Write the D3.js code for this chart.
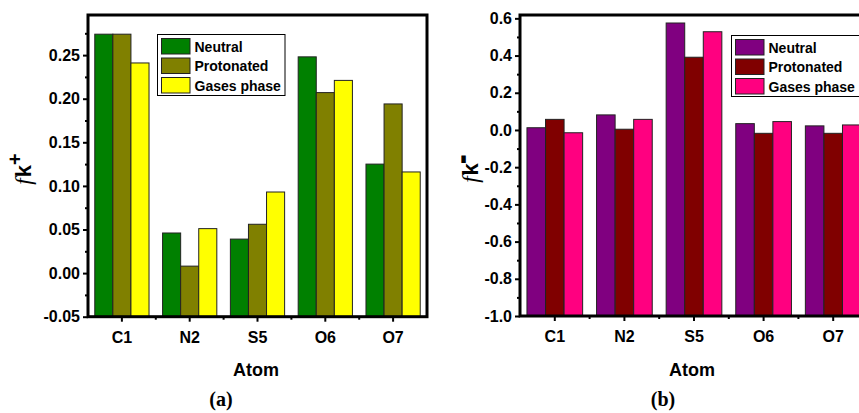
<!DOCTYPE html>
<html><head><meta charset="utf-8">
<script src="https://cdn.jsdelivr.net/npm/d3@7"></script>
<style>body{margin:0;background:#fff}svg{display:block}</style>
</head><body><svg id="c" width="859" height="413"></svg>
<script>
const atoms = ["C1","N2","S5","O6","O7"];
const seriesNames = ["Neutral","Protonated","Gases phase"];
// panel (a) f_k+
const plusNeutral    = [0.274, 0.046, 0.039, 0.248, 0.125];
const plusProtonated = [0.274, 0.008, 0.056, 0.207, 0.194];
const plusGas        = [0.241, 0.051, 0.093, 0.221, 0.116];
const plusTicks = [-0.05, 0.00, 0.05, 0.10, 0.15, 0.20, 0.25];
const plusColors = ["#008000","#808000","#FFFF00"];
// panel (b) f_k-
const minusNeutral    = [0.012, 0.081, 0.575, 0.034, 0.022];
const minusProtonated = [0.057, 0.004, 0.391, -0.018, -0.018];
const minusGas        = [-0.015, 0.057, 0.528, 0.045, 0.027];
const minusTicks = [-1.0, -0.8, -0.6, -0.4, -0.2, 0.0, 0.2, 0.4, 0.6];
const minusColors = ["#800080","#800000","#FF0080"];

const svg = d3.select("#c");
const SANS = "Liberation Sans, Arial, sans-serif";
const SERIF = "Liberation Serif, Times New Roman, serif";

function panel(o){
  const g = svg.append("g");
  const x = d3.scaleBand().domain(atoms).range([o.x0, o.x1]).paddingInner(0.2).paddingOuter(0.1);
  const xs = d3.scaleBand().domain(d3.range(3)).range([0, x.bandwidth()]);
  const y = d3.scaleLinear().domain(o.domain).range([o.yb, o.yt]);
  o.data.forEach((vals, si) => {
    g.selectAll(null).data(vals).enter().append("rect")
      .attr("x", (d,i) => x(atoms[i]) + xs(si))
      .attr("y", d => y(d))
      .attr("width", xs.bandwidth())
      .attr("height", d => y(o.domain[0]) - y(d))
      .attr("fill", o.colors[si])
      .attr("stroke", "#222").attr("stroke-width", 1);
  });
  const fmt = d => d3.format(o.fmt)(d).replace("\u2212","-");
  const ya = g.append("g").attr("transform", `translate(${o.x0},0)`)
    .call(d3.axisLeft(y).tickValues(o.ticks).tickFormat(fmt).tickSize(5).tickPadding(3));
  ya.select(".domain").remove();
  ya.selectAll("line").attr("stroke","#000").attr("stroke-width",2);
  ya.selectAll("text").attr("font-family",SANS).attr("font-weight","bold").attr("font-size",16).attr("fill","#000");
  const minors = [];
  for (let i=0;i<o.ticks.length-1;i++) minors.push((o.ticks[i]+o.ticks[i+1])/2);
  const lastMinor = o.ticks[o.ticks.length-1] + (o.ticks[1]-o.ticks[0])/2;
  if (lastMinor < o.domain[1]) minors.push(lastMinor);
  g.append("g").attr("transform", `translate(${o.x0},0)`)
    .call(d3.axisLeft(y).tickValues(minors).tickFormat("").tickSize(3))
    .call(s => { s.select(".domain").remove(); s.selectAll("line").attr("stroke","#000").attr("stroke-width",2); });
  const xa = g.append("g").attr("transform", `translate(0,${o.yb})`)
    .call(d3.axisBottom(x).tickSize(5).tickPadding(10));
  xa.select(".domain").remove();
  xa.selectAll("line").attr("stroke","#000").attr("stroke-width",2);
  xa.selectAll("text").attr("font-family",SANS).attr("font-weight","bold").attr("font-size",16).attr("fill","#000");
  const bounds = atoms.slice(1).map(a => x(a) - x.step()*x.paddingInner()/2);
  g.selectAll(null).data(bounds).enter().append("line")
    .attr("x1", d=>d).attr("x2", d=>d).attr("y1", o.yb).attr("y2", o.yb+3)
    .attr("stroke","#000").attr("stroke-width",2);
  g.append("rect").attr("x", o.x0).attr("y", o.yt).attr("width", o.x1 - o.x0).attr("height", o.yb - o.yt)
    .attr("fill","none").attr("stroke","#000").attr("stroke-width",3);
  const lg = g.append("g");
  lg.append("rect").attr("x", o.lx).attr("y", o.ly).attr("width", o.lw).attr("height", 61)
    .attr("fill","#fff").attr("stroke","#000").attr("stroke-width",1);
  seriesNames.forEach((n, i) => {
    lg.append("rect").attr("x", o.lx+4).attr("y", o.ly+4+i*19.5).attr("width", 28.5).attr("height", 15.5)
      .attr("fill", o.colors[i]).attr("stroke","#222").attr("stroke-width",1);
    lg.append("text").attr("x", o.lx+37).attr("y", o.ly+17+i*19.5).text(n)
      .attr("font-family",SANS).attr("font-weight","bold").attr("font-size",14);
  });
  const yt = g.append("text").attr("transform", `translate(${o.ytx},${o.yty}) rotate(-90)`)
    .attr("text-anchor","middle");
  yt.append("tspan").text("f").attr("font-family",SERIF).attr("font-style","italic").attr("font-size",23);
  yt.append("tspan").text("k").attr("font-family",SANS).attr("font-weight","bold").attr("font-size",22).attr("dx",1);
  yt.append("tspan").text(o.sup).attr("font-family",SANS).attr("font-weight","bold").attr("font-size",o.supSize).attr("dy",o.supDy)
    .attr("stroke","#000").attr("stroke-width",o.supStroke);
  g.append("text").attr("x", o.atx).attr("y", 376).attr("text-anchor","middle").text("Atom")
    .attr("font-family",SANS).attr("font-weight","bold").attr("font-size",18);
  g.append("text").attr("x", o.lbx).attr("y", 406).attr("text-anchor","middle").text(o.label)
    .attr("font-family",SERIF).attr("font-weight","bold").attr("font-size",20);
}

panel({x0:88, x1:427, yt:15, yb:316.7, domain:[-0.05, 0.296], ticks:plusTicks, fmt:".2f",
  data:[plusNeutral, plusProtonated, plusGas], colors:plusColors,
  lx:157.5, ly:34.5, lw:127.5, ytx:31, yty:169, sup:"+", supSize:20, supDy:-9, supStroke:0, atx:256, lbx:221, label:"(a)"});
panel({x0:520, x1:868, yt:15, yb:316, domain:[-1.0, 0.618], ticks:minusTicks, fmt:".1f",
  data:[minusNeutral, minusProtonated, minusGas], colors:minusColors,
  lx:731.5, ly:35.5, lw:140, ytx:478, yty:169, sup:"-", supSize:24, supDy:-8, supStroke:1.5, atx:692, lbx:663, label:"(b)"});
</script></body></html>
